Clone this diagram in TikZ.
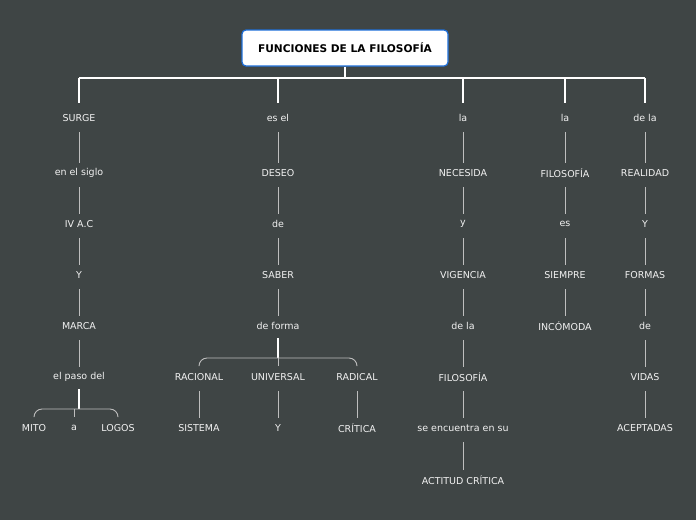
\documentclass[tikz,border=0pt]{standalone}
\usepackage{fontspec}
\setmainfont{DejaVu Sans}
\definecolor{bgc}{HTML}{3F4545}
\definecolor{txtc}{HTML}{F2F2F2}
\definecolor{linec}{HTML}{BEBEBE}
\definecolor{boxborder}{HTML}{1E6FD9}
\tikzset{
  lbl/.style={text=txtc, font=\fontsize{9.5}{11}\selectfont, inner sep=0pt, minimum height=22pt},
  conn/.style={draw=linec, line width=0.9pt, shorten <=3pt, shorten >=-1pt},
  topconn/.style={draw=white, line width=1.8pt},
  brk/.style={draw=linec, line width=0.9pt, rounded corners=8pt},
  titlebox/.style={draw=boxborder, fill=white, line width=1.2pt, rounded corners=4pt, minimum width=206pt, minimum height=36pt, font=\bfseries\fontsize{10.6}{12}\selectfont, text=black}
}
\begin{document}
\begin{tikzpicture}[x=1pt,y=-1pt]
\fill[bgc] (0,0) rectangle (696,520);
\useasboundingbox (0,0) rectangle (696,520);
\node[titlebox] (title) at (345,48) {FUNCIONES DE LA FILOSOFÍA};
% column 1
\node[lbl] (a1) at (79,118) {SURGE};
\node[lbl] (a2) at (79,173) {en el siglo};
\node[lbl] (a3) at (79,224) {IV A.C};
\node[lbl] (a4) at (79,275) {Y};
\node[lbl] (a5) at (79,326) {MARCA};
\node[lbl] (a6) at (79,377) {el paso del};
\node[lbl] (a7) at (34,428) {MITO};
\node[lbl] (a8) at (74,428) {a};
\node[lbl] (a9) at (118,428) {LOGOS};
% column 2
\node[lbl] (b1) at (278,118) {es el};
\node[lbl] (b2) at (278,173) {DESEO};
\node[lbl] (b3) at (278,224) {de};
\node[lbl] (b4) at (278,275) {SABER};
\node[lbl] (b5) at (278,326) {de forma};
\node[lbl] (b6) at (199,377) {RACIONAL};
\node[lbl] (b7) at (278,377) {UNIVERSAL};
\node[lbl] (b8) at (357,377) {RADICAL};
\node[lbl] (b9) at (199,428) {SISTEMA};
\node[lbl] (b10) at (278,428) {Y};
\node[lbl] (b11) at (357,428) {CRÍTICA};
% column 3
\node[lbl] (c1) at (463,118) {la};
\node[lbl] (c2) at (463,173) {NECESIDA};
\node[lbl] (c3) at (463,224) {y};
\node[lbl] (c4) at (463,275) {VIGENCIA};
\node[lbl] (c5) at (463,326) {de la};
\node[lbl] (c6) at (463,377) {FILOSOFÍA};
\node[lbl] (c7) at (463,428) {se encuentra en su};
\node[lbl] (c8) at (463,480) {ACTITUD CRÍTICA};
% column 4
\node[lbl] (d1) at (565,118) {la};
\node[lbl] (d2) at (565,173) {FILOSOFÍA};
\node[lbl] (d3) at (565,224) {es};
\node[lbl] (d4) at (565,275) {SIEMPRE};
\node[lbl] (d5) at (565,326) {INCÓMODA};
% column 5
\node[lbl] (e1) at (645,118) {de la};
\node[lbl] (e2) at (645,173) {REALIDAD};
\node[lbl] (e3) at (645,224) {Y};
\node[lbl] (e4) at (645,275) {FORMAS};
\node[lbl] (e5) at (645,326) {de};
\node[lbl] (e6) at (645,377) {VIDAS};
\node[lbl] (e7) at (645,428) {ACEPTADAS};
% top connectors
\coordinate (hub) at (345,78);
\draw[topconn] (title.south) -- (hub);
\draw[topconn] (a1.north |- hub) -- (e1.north |- hub);
\foreach \n in {a1,b1,c1,d1,e1}{
  \draw[topconn] (\n.north |- hub) -- ([yshift=4pt]\n.north);
}
% chains
\foreach \p/\q in {a1/a2,a2/a3,a3/a4,a4/a5,a5/a6,
                   b1/b2,b2/b3,b3/b4,b4/b5,b6/b9,b7/b10,b8/b11,
                   c1/c2,c2/c3,c3/c4,c4/c5,c5/c6,c6/c7,c7/c8,
                   d1/d2,d2/d3,d3/d4,d4/d5,
                   e1/e2,e2/e3,e3/e4,e4/e5,e5/e6,e6/e7}{
  \draw[conn] (\p.south) -- (\q.north);
}
% bracket: el paso del
\coordinate (ha) at (79,409);
\draw[draw=white, line width=1.6pt, shorten <=1pt] (a6.south) -- (ha);
\draw[brk] (a7.north) |- (ha) -| (a9.north);
\draw[draw=linec, line width=0.9pt] (a8.north |- ha) -- (a8.north);
% bracket: de forma
\coordinate (hb) at (278,358);
\draw[draw=white, line width=1.3pt, shorten <=1pt] (b5.south) -- (hb);
\draw[brk] (b6.north) |- (hb) -| (b8.north);
\draw[draw=linec, line width=0.9pt] (b7.north |- hb) -- (b7.north);
\end{tikzpicture}
\end{document}
